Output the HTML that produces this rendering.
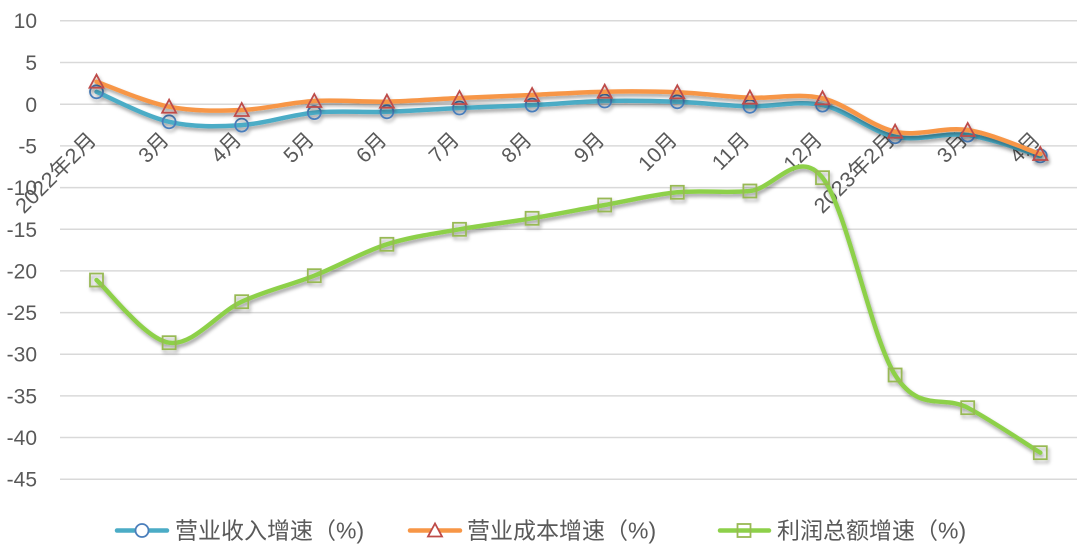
<!DOCTYPE html>
<html>
<head>
<meta charset="utf-8">
<style>
  html,body{margin:0;padding:0;background:#fff;}
  svg{display:block;}
  text{font-family:"Liberation Sans","Noto Sans CJK SC",sans-serif;fill:#595959;}
</style>
</head>
<body>
<svg width="1080" height="555" viewBox="0 0 1080 555" xmlns="http://www.w3.org/2000/svg">
  <defs>
    <filter id="sh" x="-10%" y="-20%" width="120%" height="150%">
      <feDropShadow dx="1.5" dy="3" stdDeviation="1.8" flood-color="#000" flood-opacity="0.35"/>
    </filter>
  </defs>
  <rect width="1080" height="555" fill="#fff"/>

  <!-- gridlines -->
  <g stroke="#d9d9d9" stroke-width="1.5">
    <line x1="60" x2="1077" y1="20.7" y2="20.7"/>
    <line x1="60" x2="1077" y1="62.5" y2="62.5"/>
    <line x1="60" x2="1077" y1="104.3" y2="104.3"/>
    <line x1="60" x2="1077" y1="145.9" y2="145.9"/>
    <line x1="60" x2="1077" y1="187.6" y2="187.6"/>
    <line x1="60" x2="1077" y1="229.3" y2="229.3"/>
    <line x1="60" x2="1077" y1="270.9" y2="270.9"/>
    <line x1="60" x2="1077" y1="312.6" y2="312.6"/>
    <line x1="60" x2="1077" y1="354.2" y2="354.2"/>
    <line x1="60" x2="1077" y1="395.9" y2="395.9"/>
    <line x1="60" x2="1077" y1="437.5" y2="437.5"/>
    <line x1="60" x2="1077" y1="479.2" y2="479.2"/>
  </g>

  <!-- y labels -->
  <g font-size="21" text-anchor="end">
    <text x="37" y="28.2">10</text>
    <text x="37" y="70">5</text>
    <text x="37" y="111.8">0</text>
    <text x="37" y="153.4">-5</text>
    <text x="37" y="195.1">-10</text>
    <text x="37" y="236.8">-15</text>
    <text x="37" y="278.4">-20</text>
    <text x="37" y="320.1">-25</text>
    <text x="37" y="361.7">-30</text>
    <text x="37" y="403.4">-35</text>
    <text x="37" y="445">-40</text>
    <text x="37" y="486.7">-45</text>
  </g>

  <!-- x labels -->
  <g font-size="21" text-anchor="end">
    <text transform="translate(97.5,141) rotate(-45)" textLength="104" lengthAdjust="spacingAndGlyphs">2022年2月</text>
    <text transform="translate(170.1,141) rotate(-45)">3月</text>
    <text transform="translate(242.7,141) rotate(-45)">4月</text>
    <text transform="translate(315.3,141) rotate(-45)">5月</text>
    <text transform="translate(387.9,141) rotate(-45)">6月</text>
    <text transform="translate(460.5,141) rotate(-45)">7月</text>
    <text transform="translate(533.1,141) rotate(-45)">8月</text>
    <text transform="translate(605.7,141) rotate(-45)">9月</text>
    <text transform="translate(678.3,141) rotate(-45)">10月</text>
    <text transform="translate(750.9,141) rotate(-45)">11月</text>
    <text transform="translate(823.5,141) rotate(-45)">12月</text>
    <text transform="translate(896.1,141) rotate(-45)" textLength="104" lengthAdjust="spacingAndGlyphs">2023年2月</text>
    <text transform="translate(968.7,141) rotate(-45)">3月</text>
    <text transform="translate(1041.3,141) rotate(-45)">4月</text>
  </g>

  <!-- blue series -->
  <g filter="url(#sh)">
    <path fill="none" stroke="#4bacc6" stroke-width="4.5" stroke-linecap="round" stroke-linejoin="round"
      d="M96.5,91.8 C108.6,96.8 144.9,116.25 169.1,121.8 C193.3,127.35 217.5,126.63 241.7,125.1 C265.9,123.57 290.1,114.82 314.3,112.6 C338.5,110.38 362.7,112.57 386.9,111.8 C411.1,111.03 435.3,109.12 459.5,108 C483.7,106.88 507.9,106.27 532.1,105.1 C556.3,103.93 580.5,101.55 604.7,101 C628.9,100.45 653.1,100.92 677.3,101.8 C701.5,102.68 725.7,105.75 749.9,106.3 C774.1,106.85 798.3,100.02 822.5,105.1 C846.7,110.18 870.9,131.8 895.1,136.8 C919.3,141.8 943.5,131.92 967.7,135.1 C991.9,138.28 1028.2,152.43 1040.3,155.9"/>
    <g fill="none" stroke="#4a7ebb" stroke-width="1.8">
      <circle cx="96.5" cy="91.8" r="6.5"/>
      <circle cx="169.1" cy="121.8" r="6.5"/>
      <circle cx="241.7" cy="125.1" r="6.5"/>
      <circle cx="314.3" cy="112.6" r="6.5"/>
      <circle cx="386.9" cy="111.8" r="6.5"/>
      <circle cx="459.5" cy="108" r="6.5"/>
      <circle cx="532.1" cy="105.1" r="6.5"/>
      <circle cx="604.7" cy="101" r="6.5"/>
      <circle cx="677.3" cy="101.8" r="6.5"/>
      <circle cx="749.9" cy="106.3" r="6.5"/>
      <circle cx="822.5" cy="105.1" r="6.5"/>
      <circle cx="895.1" cy="136.8" r="6.5"/>
      <circle cx="967.7" cy="135.1" r="6.5"/>
      <circle cx="1040.3" cy="155.9" r="6.5"/>
    </g>
  </g>

  <!-- orange series -->
  <g filter="url(#sh)">
    <path fill="none" stroke="#f79646" stroke-width="4.5" stroke-linecap="round" stroke-linejoin="round"
      d="M96.5,81.7 C108.6,85.87 144.9,101.98 169.1,106.7 C193.3,111.42 217.5,110.95 241.7,110 C265.9,109.05 290.1,102.38 314.3,101 C338.5,99.62 362.7,102.2 386.9,101.7 C411.1,101.2 435.3,99.12 459.5,98 C483.7,96.88 507.9,96.05 532.1,95 C556.3,93.95 580.5,92.15 604.7,91.7 C628.9,91.25 653.1,91.3 677.3,92.3 C701.5,93.3 725.7,96.7 749.9,97.7 C774.1,98.7 798.3,92.63 822.5,98.3 C846.7,103.97 870.9,126.42 895.1,131.7 C919.3,136.98 943.5,126.28 967.7,130 C991.9,133.72 1028.2,150 1040.3,154"/>
    <g fill="none" stroke="#be4b48" stroke-width="1.8" stroke-linejoin="miter">
      <path d="M96.5,74.7 L89.5,87.7 L103.5,87.7 Z"/>
      <path d="M169.1,99.7 L162.1,112.7 L176.1,112.7 Z"/>
      <path d="M241.7,103 L234.7,116 L248.7,116 Z"/>
      <path d="M314.3,94 L307.3,107 L321.3,107 Z"/>
      <path d="M386.9,94.7 L379.9,107.7 L393.9,107.7 Z"/>
      <path d="M459.5,91 L452.5,104 L466.5,104 Z"/>
      <path d="M532.1,88 L525.1,101 L539.1,101 Z"/>
      <path d="M604.7,84.7 L597.7,97.7 L611.7,97.7 Z"/>
      <path d="M677.3,85.3 L670.3,98.3 L684.3,98.3 Z"/>
      <path d="M749.9,90.7 L742.9,103.7 L756.9,103.7 Z"/>
      <path d="M822.5,91.3 L815.5,104.3 L829.5,104.3 Z"/>
      <path d="M895.1,124.7 L888.1,137.7 L902.1,137.7 Z"/>
      <path d="M967.7,123 L960.7,136 L974.7,136 Z"/>
      <path d="M1040.3,147 L1033.3,160 L1047.3,160 Z"/>
    </g>
  </g>

  <!-- green series -->
  <g filter="url(#sh)">
    <path fill="none" stroke="#8dd04a" stroke-width="4.5" stroke-linecap="round" stroke-linejoin="round"
      d="M96.5,280 C108.6,290.45 144.9,339.08 169.1,342.7 C193.3,346.32 217.5,312.87 241.7,301.7 C265.9,290.53 290.1,285.27 314.3,275.7 C338.5,266.13 362.7,252.03 386.9,244.3 C411.1,236.57 435.3,233.63 459.5,229.3 C483.7,224.97 507.9,222.35 532.1,218.3 C556.3,214.25 580.5,209.33 604.7,205 C628.9,200.67 653.1,194.63 677.3,192.3 C701.5,189.97 725.7,193.43 749.9,191 C774.1,188.57 798.3,147.03 822.5,177.7 C846.7,208.37 870.9,336.67 895.1,375 C919.3,413.33 943.5,394.75 967.7,407.7 C991.9,420.65 1028.2,445.2 1040.3,452.7"/>
    <g fill="none" stroke="#98b954" stroke-width="1.8">
      <rect x="90" y="273.5" width="13" height="13"/>
      <rect x="162.6" y="336.2" width="13" height="13"/>
      <rect x="235.2" y="295.2" width="13" height="13"/>
      <rect x="307.8" y="269.2" width="13" height="13"/>
      <rect x="380.4" y="237.8" width="13" height="13"/>
      <rect x="453" y="222.8" width="13" height="13"/>
      <rect x="525.6" y="211.8" width="13" height="13"/>
      <rect x="598.2" y="198.5" width="13" height="13"/>
      <rect x="670.8" y="185.8" width="13" height="13"/>
      <rect x="743.4" y="184.5" width="13" height="13"/>
      <rect x="816" y="171.2" width="13" height="13"/>
      <rect x="888.6" y="368.5" width="13" height="13"/>
      <rect x="961.2" y="401.2" width="13" height="13"/>
      <rect x="1033.8" y="446.2" width="13" height="13"/>
    </g>
  </g>

  <!-- legend -->
  <g>
    <line x1="117" y1="530.5" x2="167" y2="530.5" stroke="#4bacc6" stroke-width="4.5" stroke-linecap="round"/>
    <circle cx="142" cy="530.5" r="6.5" fill="#fff" stroke="#4a7ebb" stroke-width="1.8"/>
    <text x="175" y="538.5" font-size="23">营业收入增速（%)</text>

    <line x1="410" y1="530.5" x2="460" y2="530.5" stroke="#f79646" stroke-width="4.5" stroke-linecap="round"/>
    <path d="M435,523.5 L428,536.5 L442,536.5 Z" fill="#fff" stroke="#be4b48" stroke-width="1.8"/>
    <text x="467" y="538.5" font-size="23">营业成本增速（%)</text>

    <line x1="720" y1="530.5" x2="769" y2="530.5" stroke="#8dd04a" stroke-width="4.5" stroke-linecap="round"/>
    <rect x="737.5" y="524" width="13" height="13" fill="none" stroke="#98b954" stroke-width="1.8"/>
    <text x="777" y="538.5" font-size="23">利润总额增速（%)</text>
  </g>
</svg>
</body>
</html>
